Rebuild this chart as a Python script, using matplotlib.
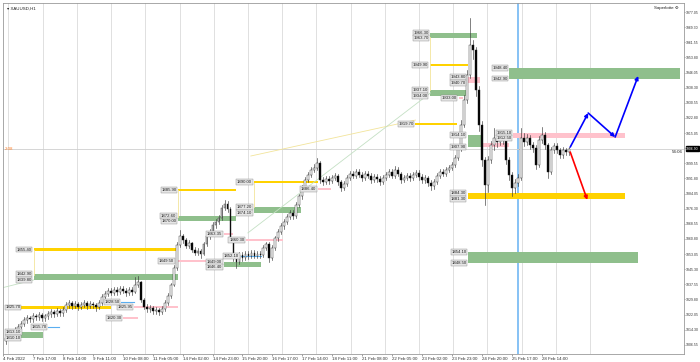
import matplotlib
matplotlib.use('Agg')
import matplotlib.pyplot as plt
import matplotlib.transforms as mtransforms

plt.rcParams['font.family'] = ['Liberation Sans', 'DejaVu Sans']

symbol = 'XAUUSD,H1'

# hourly candles (H1), opens follow the previous close
first_open = 1808.5
closes = [1810.1, 1811.6, 1812.6, 1814.2, 1815.7, 1817.2, 1819.3, 1820.3, 1819.8, 1821.3,
          1820.8, 1821.9, 1820.3, 1821.3, 1822.4, 1823.4, 1822.4, 1823.9, 1822.9, 1824.4,
          1827.0, 1828.0, 1826.5, 1827.5, 1826.0, 1827.0, 1828.0, 1826.5, 1827.5, 1827.0,
          1826.0, 1828.0, 1831.1, 1832.6, 1834.2, 1833.1, 1834.7, 1833.6, 1835.2, 1834.2,
          1833.1, 1834.7, 1833.6, 1837.2, 1838.8, 1829.5, 1826.0, 1825.0, 1825.4, 1823.9,
          1824.4, 1823.4, 1825.0, 1828.0, 1831.6, 1837.2, 1845.9, 1857.7, 1862.3, 1860.3,
          1857.2, 1858.7, 1855.1, 1853.6, 1854.6, 1853.1, 1858.2, 1862.3, 1864.4, 1867.9,
          1869.5, 1871.5, 1876.7, 1878.7, 1876.1, 1860.3, 1851.0, 1849.0, 1852.6, 1851.0,
          1853.1, 1852.1, 1853.6, 1852.1, 1853.1, 1852.6, 1856.2, 1858.2, 1851.0, 1856.2,
          1861.3, 1864.4, 1867.4, 1869.5, 1872.1, 1874.1, 1872.6, 1878.2, 1882.8, 1886.9,
          1891.0, 1893.6, 1896.1, 1897.2, 1899.7, 1891.0, 1890.0, 1891.5, 1890.5, 1892.0,
          1893.1, 1890.0, 1886.9, 1889.0, 1892.0, 1894.1, 1893.1, 1895.1, 1893.6, 1892.0,
          1894.1, 1893.1, 1891.0, 1892.5, 1891.5, 1890.0, 1892.0, 1893.6, 1895.1, 1893.1,
          1896.1, 1894.1, 1891.0, 1892.0, 1893.1, 1892.0, 1893.6, 1894.6, 1892.5, 1891.0,
          1892.0, 1889.5, 1887.9, 1890.0, 1893.1, 1895.1, 1894.1, 1896.1, 1897.2, 1898.7,
          1902.3, 1907.4, 1919.2, 1932.0, 1944.8, 1960.2, 1957.6, 1937.1, 1919.2, 1901.3,
          1888.4, 1901.3, 1908.9, 1912.5, 1910.5, 1913.5, 1911.5, 1901.3, 1893.6, 1886.9,
          1889.5, 1892.0, 1912.5, 1910.5, 1912.5, 1908.9, 1907.4, 1898.7, 1911.5, 1914.1,
          1908.9, 1895.1, 1906.4, 1908.4, 1906.4, 1903.8, 1906.4, 1905.4, 1906.9]
highs = [1811.5, 1813.0, 1814.0, 1815.5, 1817.5, 1819.0, 1821.0, 1822.0, 1821.5, 1823.0,
         1822.5, 1823.5, 1823.0, 1822.5, 1824.0, 1825.0, 1824.5, 1825.5, 1825.0, 1826.0,
         1828.5, 1829.5, 1829.0, 1829.0, 1828.5, 1828.5, 1829.5, 1829.0, 1829.0, 1828.5,
         1828.0, 1829.5, 1832.5, 1834.0, 1835.5, 1835.5, 1836.0, 1836.0, 1836.5, 1836.5,
         1835.5, 1836.0, 1836.0, 1841.3, 1841.8, 1839.5, 1830.5, 1827.5, 1827.0, 1826.5,
         1826.0, 1825.5, 1826.5, 1829.5, 1833.0, 1838.5, 1847.5, 1859.0, 1865.4, 1863.5,
         1861.5, 1860.5, 1859.5, 1856.5, 1856.0, 1855.5, 1859.5, 1863.5, 1866.0, 1869.5,
         1871.0, 1873.0, 1878.0, 1880.8, 1880.0, 1877.0, 1861.5, 1853.0, 1854.0, 1854.0,
         1854.5, 1854.5, 1855.0, 1855.0, 1854.5, 1854.5, 1857.5, 1859.5, 1859.0, 1857.5,
         1862.5, 1866.0, 1869.0, 1871.0, 1873.5, 1875.5, 1875.5, 1879.5, 1884.0, 1888.5,
         1892.5, 1895.0, 1897.5, 1899.0, 1902.3, 1900.5, 1892.5, 1893.0, 1893.0, 1893.5,
         1894.5, 1894.0, 1891.0, 1890.5, 1893.5, 1895.5, 1895.5, 1896.5, 1896.5, 1895.0,
         1895.5, 1895.5, 1894.5, 1894.0, 1894.0, 1893.0, 1893.5, 1895.0, 1896.5, 1896.5,
         1898.0, 1897.5, 1895.0, 1893.5, 1894.5, 1894.5, 1895.0, 1896.0, 1896.0, 1894.0,
         1893.5, 1893.0, 1891.0, 1891.5, 1894.5, 1896.5, 1896.5, 1897.5, 1898.5, 1900.0,
         1904.0, 1909.5, 1921.5, 1934.5, 1947.5, 1974.0, 1962.7, 1959.0, 1939.0, 1921.0,
         1903.0, 1903.5, 1911.0, 1917.6, 1914.5, 1915.5, 1915.0, 1912.5, 1903.0, 1895.0,
         1891.5, 1894.0, 1917.6, 1915.0, 1914.5, 1914.0, 1910.5, 1909.0, 1913.5, 1918.1,
         1915.5, 1910.0, 1908.0, 1910.0, 1910.0, 1907.5, 1908.0, 1907.5, 1908.0]
lows = [1807.0, 1809.0, 1810.5, 1811.5, 1813.0, 1814.5, 1816.0, 1818.0, 1818.5, 1818.5,
        1819.5, 1819.5, 1819.0, 1819.0, 1820.0, 1821.0, 1821.0, 1821.5, 1821.5, 1821.5,
        1823.5, 1825.5, 1825.0, 1825.5, 1824.5, 1825.0, 1826.0, 1825.0, 1825.5, 1825.5,
        1824.0, 1825.0, 1827.0, 1830.0, 1831.5, 1832.0, 1832.0, 1832.0, 1832.5, 1833.0,
        1831.5, 1832.0, 1832.0, 1833.0, 1836.0, 1828.5, 1825.0, 1823.5, 1823.5, 1822.5,
        1822.5, 1821.9, 1822.5, 1824.0, 1827.0, 1830.5, 1836.5, 1845.0, 1856.5, 1858.5,
        1856.0, 1856.0, 1854.0, 1852.5, 1852.5, 1851.0, 1852.5, 1857.0, 1861.0, 1863.5,
        1866.5, 1868.5, 1870.5, 1875.5, 1874.5, 1859.0, 1849.5, 1845.9, 1848.0, 1849.5,
        1850.0, 1850.5, 1851.0, 1851.0, 1851.0, 1851.0, 1851.5, 1855.0, 1849.0, 1850.0,
        1855.0, 1860.0, 1863.5, 1866.0, 1868.5, 1871.0, 1871.0, 1871.5, 1877.0, 1881.5,
        1885.5, 1890.0, 1892.5, 1895.0, 1896.0, 1889.5, 1888.5, 1889.0, 1889.0, 1889.5,
        1891.0, 1888.5, 1885.5, 1886.0, 1888.0, 1891.0, 1892.0, 1892.0, 1892.5, 1890.5,
        1891.0, 1892.0, 1889.5, 1890.0, 1890.0, 1888.5, 1889.0, 1891.0, 1892.5, 1892.0,
        1892.0, 1893.0, 1889.5, 1890.0, 1891.0, 1890.5, 1891.0, 1892.5, 1891.0, 1889.5,
        1889.5, 1888.0, 1886.0, 1886.5, 1889.0, 1892.0, 1893.0, 1893.0, 1895.0, 1896.0,
        1897.5, 1901.0, 1906.0, 1918.0, 1930.5, 1943.0, 1953.0, 1934.0, 1916.0, 1898.0,
        1878.2, 1885.0, 1899.5, 1906.5, 1908.0, 1909.0, 1909.5, 1899.0, 1891.0, 1882.8,
        1884.5, 1888.0, 1891.0, 1908.5, 1909.0, 1907.0, 1905.5, 1896.5, 1897.5, 1910.0,
        1907.0, 1892.0, 1894.0, 1905.0, 1905.0, 1902.5, 1902.5, 1904.0, 1904.0]

time_labels = ['4 Feb 2022', '7 Feb 17:00', '8 Feb 14:00', '9 Feb 11:00', '10 Feb 08:00',
               '11 Feb 05:00', '14 Feb 02:00', '14 Feb 23:00', '15 Feb 20:00', '16 Feb 17:00',
               '17 Feb 14:00', '18 Feb 11:00', '21 Feb 08:00', '22 Feb 05:00', '23 Feb 02:00',
               '23 Feb 23:00', '24 Feb 20:00', '25 Feb 17:00', '28 Feb 14:00']
price_ticks = [1977.05, 1969.30, 1961.55, 1953.80, 1946.05, 1938.30, 1930.55, 1922.80,
               1915.05, 1907.30, 1899.55, 1891.80, 1884.05, 1876.30, 1868.55, 1860.80,
               1853.05, 1845.30, 1837.55, 1829.80, 1822.05, 1814.30, 1806.55]

# supply / demand zones drawn on the chart (bar index span, price span)
zone_x0 = [9.2, 9.2, 0.8, 0.2, 42.8, 38.5, 39.2, 14.2, 57.5, 57.5, 56.8, 72.8, 80.2, 78.5, 72.8,
           82.8, 82.8, 104.2, 141.8, 141.5, 154.2, 141.5, 151.2, 136.8, 154.2, 159.5, 169.5,
           154.2, 168.2, 154.5]
zone_x1 = [57.5, 57.5, 35.2, 12.2, 57.5, 42.8, 44.2, 17.8, 76.8, 76.8, 67.5, 75.8, 92.5, 85.2, 85.2,
           104.2, 98.5, 108.5, 157.5, 154.5, 158.2, 154.2, 152.8, 150.8, 159.5, 168.2, 206.8,
           206.8, 225.2, 211.2]
zone_hi = [1856.2, 1842.9, 1826.5, 1813.1, 1826.5, 1828.5, 1820.8, 1815.7, 1872.6, 1886.4,
           1850.0, 1863.9, 1860.8, 1852.1, 1849.0, 1890.5, 1877.2, 1886.9, 1966.3, 1950.4,
           1943.8, 1937.1, 1933.5, 1920.2, 1914.1, 1910.0, 1915.1, 1884.3, 1948.4, 1854.1]
zone_lo = [1854.6, 1839.8, 1824.9, 1810.1, 1825.4, 1828.5, 1819.8, 1815.7, 1870.0, 1885.4,
           1849.0, 1862.8, 1859.8, 1852.1, 1846.4, 1889.5, 1874.1, 1885.9, 1963.7, 1949.4,
           1940.7, 1934.0, 1932.5, 1919.2, 1907.9, 1907.9, 1912.5, 1881.3, 1942.9, 1848.5]
zone_kind = ['gold', 'green', 'gold', 'green', 'pink', 'blue', 'pink', 'blue', 'green', 'gold',
             'pink', 'pink', 'pink', 'blue', 'green', 'gold', 'green', 'pink', 'green', 'gold',
             'pink', 'green', 'pink', 'gold', 'green', 'pink', 'pink', 'gold', 'green', 'green']
zone_tags = [1, 2, 1, 2, 1, 1, 1, 1, 2, 1, 1, 1, 1, 1, 2, 1, 2, 1, 2, 1, 2, 2, 1, 1, 2, 0, 2, 2, 2, 2]

# thin helper lines (x0, p0, x1, p1)
guide_x0 = [9.2, -1.5, 57.5, 82.8, 81.8, 80.8, 141.5]
guide_p0 = [1855.1, 1835.7, 1885.9, 1889.5, 1903.3, 1863.9, 1964.2]
guide_x1 = [9.2, 9.2, 57.5, 82.8, 136.8, 141.8, 141.5]
guide_p1 = [1842.3, 1839.8, 1872.1, 1877.2, 1921.7, 1935.6, 1937.1]
guide_col = ['#f2e49a', '#c4e0c4', '#f2e49a', '#f2e49a', '#f2e49a', '#c4e0c4', '#f2e49a']

# projected path after the last bar
proj_up_x = [188.5, 194.5, 203.5, 211.2]
proj_up_y = [1907.9, 1925.3, 1913.0, 1944.3]
proj_dn_x = [188.5, 194.2]
proj_dn_y = [1905.3, 1880.8]
marker_bar = 171.2

colors = {'gold': '#ffd200', 'green': '#8fbf8c', 'pink': '#ffc2cc', 'blue': '#5aaef0'}
XMIN, XMAX = -0.5, 226.5

fig = plt.figure(figsize=(7.0, 3.62), dpi=100)
ax = fig.add_axes([3 / 700, 8 / 362, 681 / 700, 351 / 362])
ax.set_xlim(XMIN, XMAX)
ax.set_ylim(1801.88, 1981.66)

# vertical grid
g = 0.83
while g < 196:
    ax.axvline(g, color='#dadada', lw=0.6, zorder=0)
    g += 11.43

ax.axvline(marker_bar, color='#7dbdf5', lw=1.3, zorder=1)
ax.axhline(closes[-1], color='#cfcfcf', lw=0.6, zorder=1)

label_box = dict(boxstyle='square,pad=0.15', fc='#e6e6e6', ec='#8a8a8a', lw=0.3)
for x0, x1, hi, lo, kind, tags in zip(zone_x0, zone_x1, zone_hi, zone_lo, zone_kind, zone_tags):
    if kind == 'blue':
        ax.plot([x0, x1], [hi, hi], color=colors['blue'], lw=0.8, zorder=2)
    else:
        ax.fill_between([x0, x1], lo, hi, color=colors[kind], lw=0, zorder=2)
    if tags == 1:
        spots = [(hi + lo) / 2]
    elif tags == 2:
        spots = [hi, lo]
    else:
        spots = []
    for p in spots:
        if x0 < 5:
            # no room on the left: keep the tag inside the chart
            ax.text(XMIN + 0.4, p, f'{p:.2f}', fontsize=3.1, ha='left', va='center',
                    color='#202020', zorder=6, bbox=label_box)
        else:
            ax.text(x0 - 0.6, p, f'{p:.2f}', fontsize=3.1, ha='right', va='center',
                    color='#202020', zorder=6, bbox=label_box)

for x0, p0, x1, p1, c in zip(guide_x0, guide_p0, guide_x1, guide_p1, guide_col):
    ax.plot([x0, x1], [p0, p1], color=c, lw=0.6, zorder=2)

# candles
opens = [first_open] + closes[:-1]
for i, (o, h, l, c) in enumerate(zip(opens, highs, lows, closes)):
    ax.plot([i, i], [l, h], color='#3a3a3a', lw=0.45, zorder=4)
    body = max(abs(c - o), 0.25)
    fc = 'white' if c >= o else 'black'
    ax.bar(i, body, bottom=min(o, c), width=0.62, color=fc, edgecolor='#202020', lw=0.3, zorder=5)

# projections
for k in range(len(proj_up_x) - 1):
    ax.annotate('', xy=(proj_up_x[k + 1], proj_up_y[k + 1]), xytext=(proj_up_x[k], proj_up_y[k]),
                arrowprops=dict(arrowstyle='-|>', color='#0000ff', lw=1.2, mutation_scale=5,
                                shrinkA=0, shrinkB=0), zorder=7)
ax.annotate('', xy=(proj_dn_x[1], proj_dn_y[1]), xytext=(proj_dn_x[0], proj_dn_y[0]),
            arrowprops=dict(arrowstyle='-|>', color='#ff0000', lw=1.2, mutation_scale=5,
                            shrinkA=0, shrinkB=0), zorder=7)

# axes
ax.yaxis.tick_right()
ax.set_yticks(price_ticks)
ax.set_yticklabels([f'{p:.2f}' for p in price_ticks])
ax.set_xticks([-1 + 10 * k for k in range(len(time_labels))])
ax.set_xticklabels(time_labels, ha='left')
ax.tick_params(axis='x', labelsize=3.2, length=1.5, width=0.4, pad=0.5, colors='#555555',
               labelcolor='#333333')
ax.tick_params(axis='y', labelsize=2.5, length=1.0, width=0.4, pad=0.3, colors='#555555',
               labelcolor='#333333')
for s in ax.spines.values():
    s.set_color('#9a9a9a')
    s.set_linewidth(0.6)

trans = mtransforms.blended_transform_factory(ax.transAxes, ax.transData)
ax.text(1.003, closes[-1], f'{closes[-1]:.2f}', transform=trans, fontsize=2.5, color='white',
        va='center', ha='left', zorder=8, clip_on=False,
        bbox=dict(boxstyle='square,pad=0.15', fc='black', ec='black'))
ax.text(0.998, closes[-1] - 1.6, '54:06', transform=trans, fontsize=3.2, color='#222222',
        va='center', ha='right')
ax.text(0.003, closes[-1], '2:08', transform=trans, fontsize=3.2, color='#ff7f27',
        va='center', ha='left')
ax.text(0.006, 0.985, '\u25be ' + symbol, transform=ax.transAxes, fontsize=3.2,
        color='#222222', va='center', ha='left', family=['Liberation Sans', 'DejaVu Sans'])
ax.text(0.992, 0.985, 'Saperlotte \u2699', transform=ax.transAxes, fontsize=3.2,
        color='#222222', va='center', ha='right', family=['Liberation Sans', 'DejaVu Sans'])

fig.savefig('out.png', dpi=100, facecolor='white')
